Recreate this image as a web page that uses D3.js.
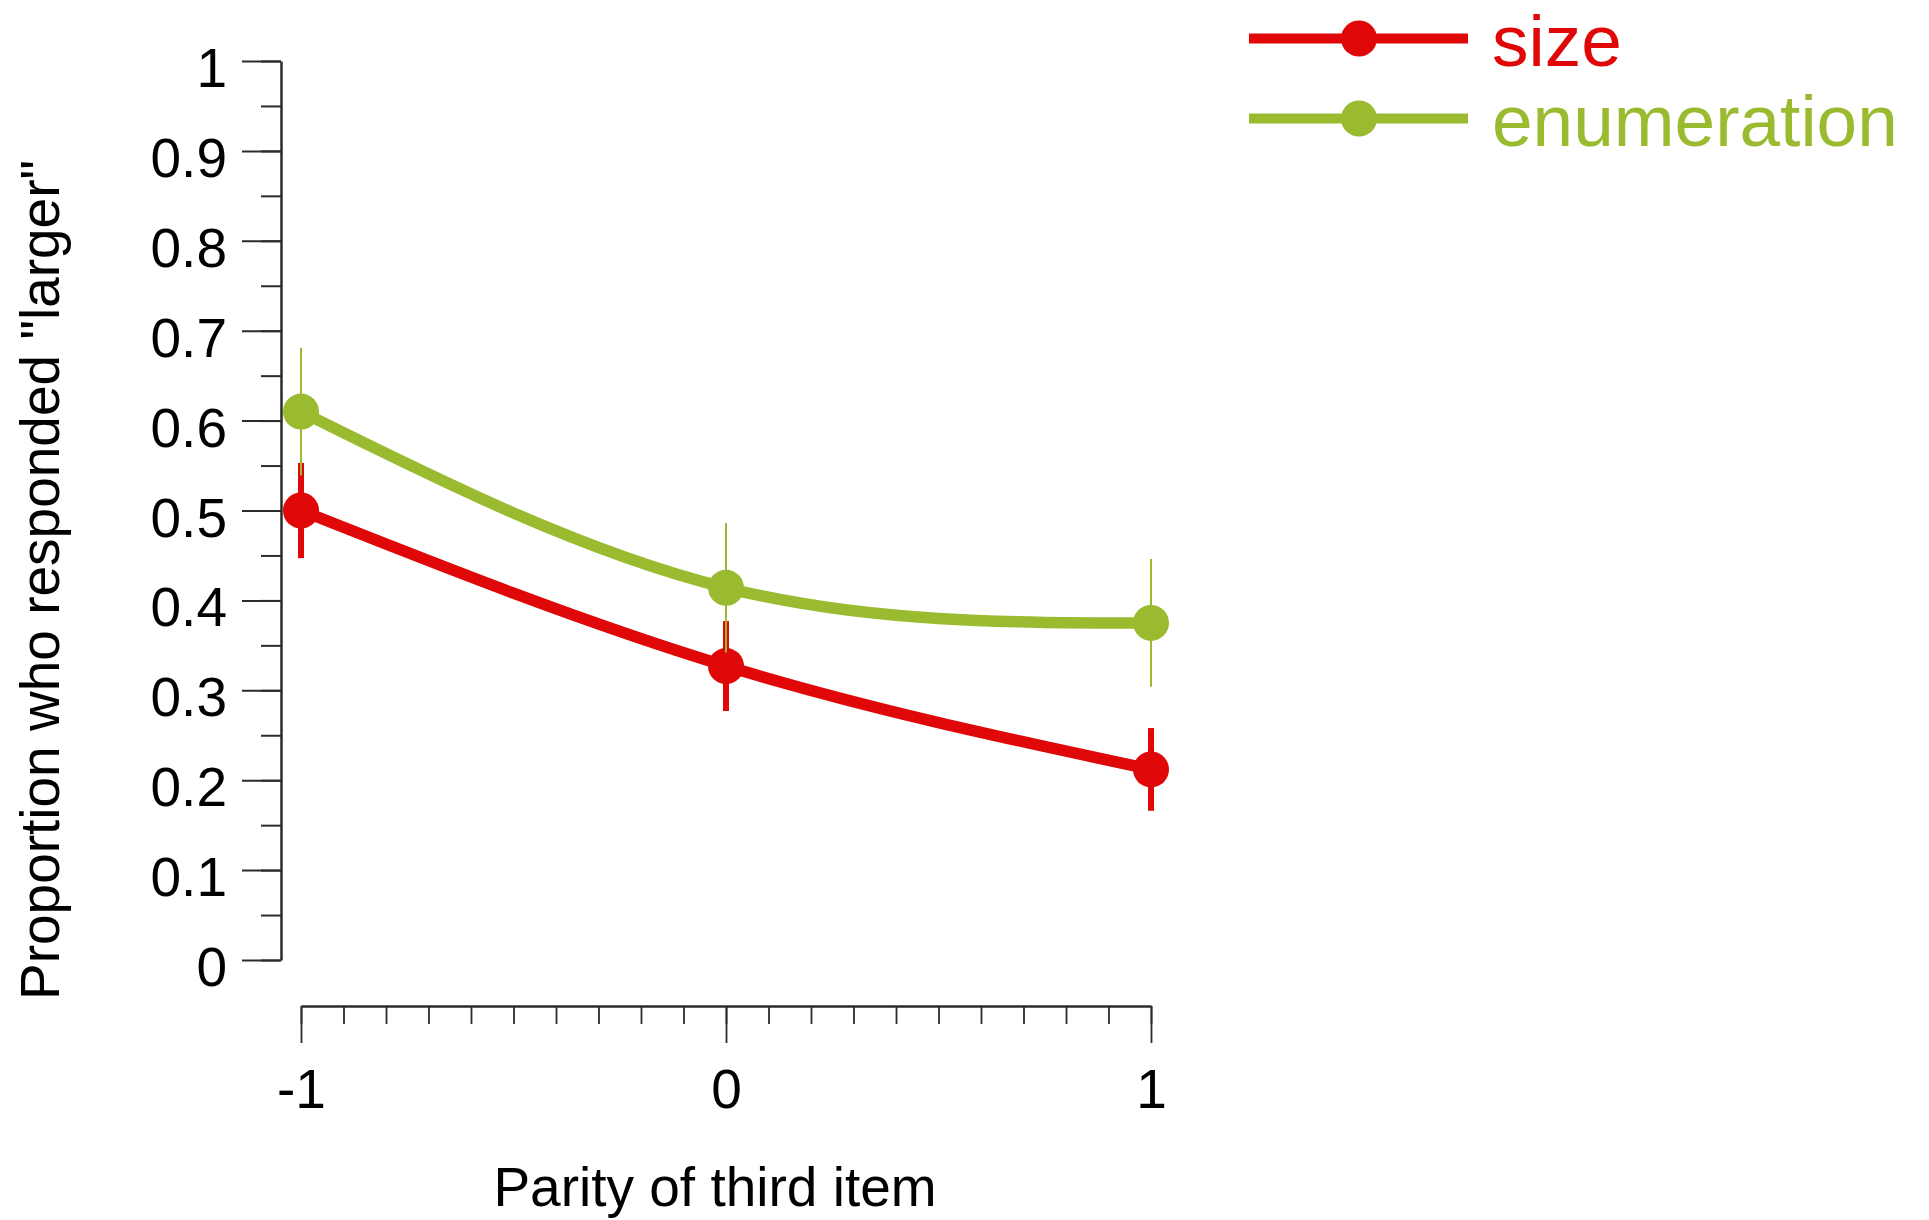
<!DOCTYPE html>
<html>
<head>
<meta charset="utf-8">
<script src="https://cdn.jsdelivr.net/npm/d3@7"></script>
<style>
  html, body { margin: 0; padding: 0; background: #fff; }
  svg { display: block; font-family: "Liberation Sans", Arial, Helvetica, sans-serif; }
</style>
</head>
<body>
<svg id="chart" width="1929" height="1220"></svg>
<script>
// ---- data ----
const categories = [-1, 0, 1];
const seriesNames = ["size", "enumeration"];
const sizeMean = [0.500, 0.327, 0.212];
const sizeErr  = [0.053, 0.050, 0.046];
const enumMean = [0.610, 0.414, 0.375];
const enumErr  = [0.071, 0.072, 0.071];
const yTickValues = [0, 0.1, 0.2, 0.3, 0.4, 0.5, 0.6, 0.7, 0.8, 0.9, 1];
const yTickLabels = ["0", "0.1", "0.2", "0.3", "0.4", "0.5", "0.6", "0.7", "0.8", "0.9", "1"];
const xTickValues = [-1, 0, 1];
const xTickLabels = ["-1", "0", "1"];
const xTitle = "Parity of third item";
const yTitle = "Proportion who responded \"larger\"";

// ---- styles ----
const colors = { size: "#df0707", enumeration: "#9abb2f" };
const errWidth = { size: 6, enumeration: 2 };
const axisColor = "#2b2b2b";
const fontSize = 55;

const svg = d3.select("#chart");

const x = d3.scaleLinear().domain([-1, 1]).range([301, 1151]);
const y = d3.scaleLinear().domain([0, 1]).range([960, 61]);

const yAxisX = 281;
const xAxisY = 1006;

// ---- Y axis ----
const yMinor = d3.range(0, 21).map(i => i * 0.05);
svg.append("g")
  .attr("transform", `translate(${yAxisX},0)`)
  .call(d3.axisLeft(y).tickValues(yMinor).tickSize(20).tickSizeOuter(0).tickFormat(""))
  .call(g => g.select(".domain").remove())
  .call(g => g.selectAll("line").attr("stroke", axisColor).attr("stroke-width", 2));

const yAx = svg.append("g")
  .attr("transform", `translate(${yAxisX},0)`)
  .call(d3.axisLeft(y).tickValues(yTickValues).tickSize(39).tickSizeOuter(0)
        .tickPadding(15).tickFormat((d, i) => yTickLabels[i]));
yAx.select(".domain").attr("stroke", axisColor).attr("stroke-width", 2.5);
yAx.selectAll("line").attr("stroke", axisColor).attr("stroke-width", 2);
yAx.selectAll("text")
  .attr("dy", null).attr("y", 25.5)
  .attr("font-size", fontSize).attr("fill", "#000")
  .attr("font-family", "Liberation Sans, Arial, sans-serif");

// ---- X axis ----
const xMinor = d3.range(0, 21).map(i => -1 + i * 0.1);
svg.append("g")
  .attr("transform", `translate(0,${xAxisY})`)
  .call(d3.axisBottom(x).tickValues(xMinor).tickSize(18).tickSizeOuter(0).tickFormat(""))
  .call(g => g.select(".domain").remove())
  .call(g => g.selectAll("line").attr("stroke", axisColor).attr("stroke-width", 1.8));

const xAx = svg.append("g")
  .attr("transform", `translate(0,${xAxisY})`)
  .call(d3.axisBottom(x).tickValues(xTickValues).tickSize(37).tickSizeOuter(0)
        .tickFormat((d, i) => xTickLabels[i]));
xAx.select(".domain").attr("stroke", axisColor).attr("stroke-width", 2.5);
xAx.selectAll("line").attr("stroke", axisColor).attr("stroke-width", 1.8);
xAx.selectAll("text")
  .attr("dy", null).attr("y", 102)
  .attr("font-size", fontSize).attr("fill", "#000")
  .attr("font-family", "Liberation Sans, Arial, sans-serif");

// ---- axis titles ----
svg.append("text")
  .attr("x", 715).attr("y", 1206)
  .attr("text-anchor", "middle")
  .attr("font-size", fontSize).attr("fill", "#000")
  .text(xTitle);

svg.append("text")
  .attr("transform", `translate(59,580) rotate(-90)`)
  .attr("text-anchor", "middle")
  .attr("font-size", fontSize).attr("fill", "#000")
  .text(yTitle);

// ---- series ----
const series = [
  { name: seriesNames[0], mean: sizeMean, err: sizeErr },
  { name: seriesNames[1], mean: enumMean, err: enumErr }
];

const line = d3.line()
  .x(d => x(d.x)).y(d => y(d.y))
  .curve(d3.curveNatural);

series.forEach(s => {
  const pts = categories.map((c, i) => ({ x: c, y: s.mean[i], e: s.err[i] }));
  const g = svg.append("g");
  g.append("path")
    .datum(pts)
    .attr("d", line)
    .attr("fill", "none")
    .attr("stroke", colors[s.name])
    .attr("stroke-width", 11.5);
  g.selectAll("line.err").data(pts).join("line")
    .attr("class", "err")
    .attr("x1", d => x(d.x)).attr("x2", d => x(d.x))
    .attr("y1", d => y(d.y - d.e)).attr("y2", d => y(d.y + d.e))
    .attr("stroke", colors[s.name])
    .attr("stroke-width", errWidth[s.name]);
  g.selectAll("circle").data(pts).join("circle")
    .attr("cx", d => x(d.x)).attr("cy", d => y(d.y))
    .attr("r", 18)
    .attr("fill", colors[s.name]);
});

// ---- legend ----
const legend = svg.append("g");
const legendRows = [38.5, 118.5];
series.forEach((s, i) => {
  const ly = legendRows[i];
  legend.append("line")
    .attr("x1", 1249).attr("x2", 1468)
    .attr("y1", ly).attr("y2", ly)
    .attr("stroke", colors[s.name]).attr("stroke-width", 10);
  legend.append("circle")
    .attr("cx", 1359).attr("cy", ly).attr("r", 18)
    .attr("fill", colors[s.name]);
  legend.append("text")
    .attr("x", 1492).attr("y", ly + 27.5)
    .attr("font-size", 73)
    .attr("fill", colors[s.name])
    .text(s.name);
});
</script>
</body>
</html>
